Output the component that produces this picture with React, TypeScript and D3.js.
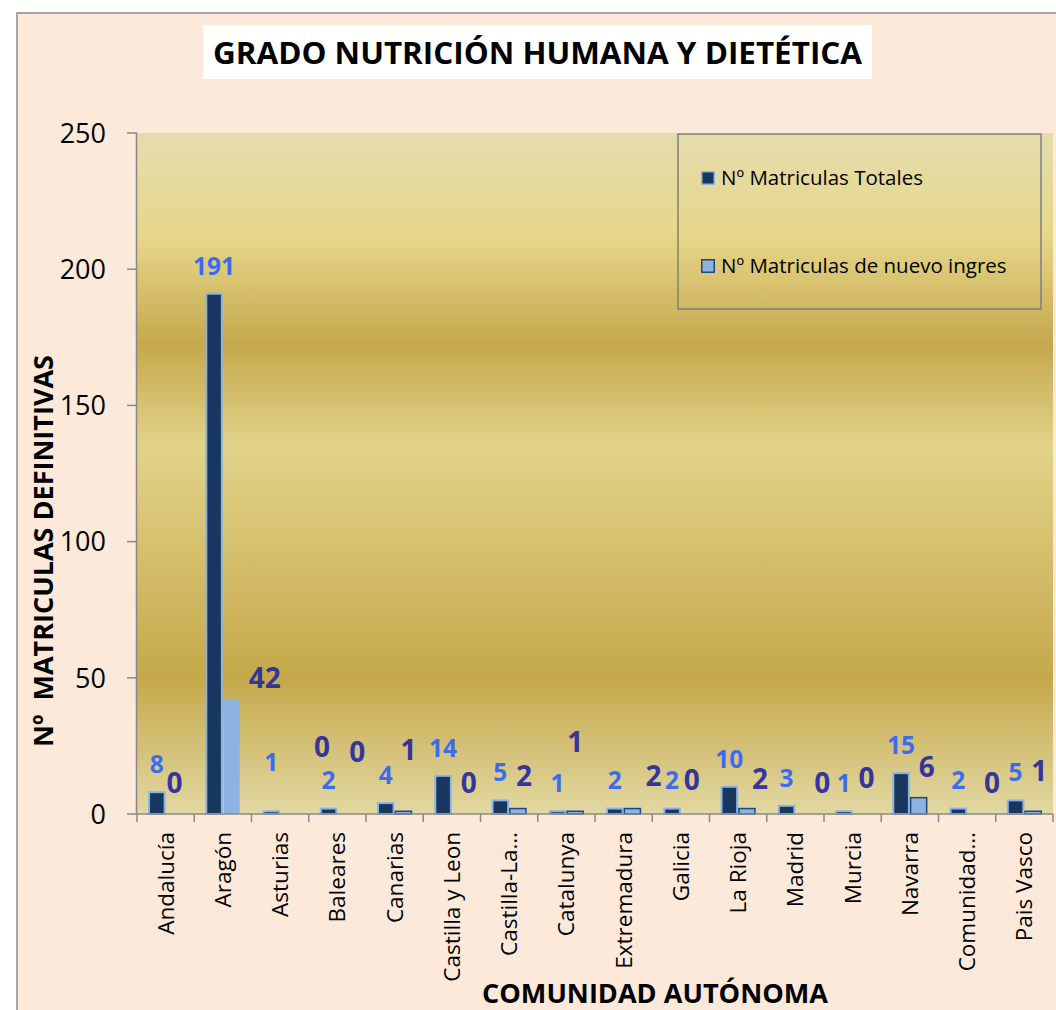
import { scaleBand, scaleLinear } from 'd3'

const categories = [
  'Andalucía',
  'Aragón',
  'Asturias',
  'Baleares',
  'Canarias',
  'Castilla y Leon',
  'Castilla-La…',
  'Catalunya',
  'Extremadura',
  'Galicia',
  'La Rioja',
  'Madrid',
  'Murcia',
  'Navarra',
  'Comunidad…',
  'Pais Vasco',
]
const totales = [8, 191, 1, 2, 4, 14, 5, 1, 2, 2, 10, 3, 1, 15, 2, 5]
const nuevoIngreso = [0, 42, 0, 0, 1, 0, 2, 1, 2, 0, 2, 0, 0, 6, 0, 1]
const yTicks = [0, 50, 100, 150, 200, 250]
const seriesNames = ['Nº Matriculas Totales', 'Nº Matriculas de nuevo ingres']

// labels were dragged by hand in the original sheet, these are the pixel nudges
const totalLabelNudge = [0, 0, -21, 0, 0, 0, 0, 0, 0, 0, 0, 0, 0, 0, 0, 0]
const nuevoLabelNudge: [number, number][] = [
  [0, 0], [33, 9], [33, -36], [11, -31], [5, -30], [8, 0], [6, -2], [0, -38],
  [21, -2], [2, -3], [13, 1], [18, 0], [5, -5], [8, 0], [16, 0], [6, -9],
]

const W = 1056
const H = 1010
const PLOT = { left: 137, right: 1053, top: 133, bottom: 814 }
const FONT = '"Open Sans", "Noto Sans", sans-serif'
const DARK = '#17375e'
const LIGHT = '#8db3e2'
const AXIS = '#888888'

export default function App() {
  const x = scaleBand<string>()
    .domain(categories)
    .range([PLOT.left, PLOT.right])
    .paddingInner(0)
    .paddingOuter(0)
  const inner = scaleBand<string>()
    .domain(['t', 'n'])
    .range([0, x.bandwidth()])
    .paddingInner(0)
    .paddingOuter(0.63)
  const y = scaleLinear().domain([0, 250]).range([PLOT.bottom, PLOT.top])
  const bw = inner.bandwidth()

  return (
    <div style={{ position: 'absolute', left: 0, top: 0 }}>
      <svg width={W} height={H} viewBox={`0 0 ${W} ${H}`} style={{ display: 'block' }}>
        <defs>
          <linearGradient id="gold" x1="0" y1="0" x2="0" y2="1">
            <stop offset="0" stopColor="#e4dcae" />
            <stop offset="0.15" stopColor="#e7d78a" />
            <stop offset="0.31" stopColor="#c5a84d" />
            <stop offset="0.46" stopColor="#e2d389" />
            <stop offset="0.8" stopColor="#c5a84b" />
            <stop offset="1" stopColor="#e2d8a2" />
          </linearGradient>
        </defs>
        <rect width={W} height={H} fill="#ffffff" />
        <rect x={17} y={13} width={W} height={H} fill="#fde9d9" stroke="#8c8c8c" strokeWidth={1.5} />

        {/* title */}
        <rect x={203} y={25} width={669} height={54} fill="#ffffff" />
        <text
          x={213}
          y={64}
          fontFamily={FONT}
          fontWeight="bold"
          fontSize={30}
          textLength={649}
          lengthAdjust="spacingAndGlyphs"
          fill="#000"
        >
          GRADO NUTRICIÓN HUMANA Y DIETÉTICA
        </text>

        {/* plot area */}
        <rect
          x={PLOT.left}
          y={PLOT.top}
          width={PLOT.right - PLOT.left}
          height={PLOT.bottom - PLOT.top}
          fill="url(#gold)"
        />

        {/* bars */}
        {categories.map((c, i) => {
          const x0 = x(c) ?? 0
          const tv = totales[i]
          const nv = nuevoIngreso[i]
          return (
            <g key={c}>
              {tv > 0 ? (
                <rect
                  x={x0 + (inner('t') ?? 0) + 1}
                  y={y(tv)}
                  width={bw - 2}
                  height={y(0) - y(tv)}
                  fill={DARK}
                  stroke={LIGHT}
                  strokeWidth={2}
                />
              ) : null}
              {nv > 0 ? (
                <rect
                  x={x0 + (inner('n') ?? 0) + 0.75}
                  y={y(nv)}
                  width={bw - 1.5}
                  height={y(0) - y(nv)}
                  fill={LIGHT}
                  stroke={i === 1 ? 'none' : '#1f497d'}
                  strokeWidth={1.5}
                />
              ) : null}
            </g>
          )
        })}

        {/* axes */}
        <line x1={PLOT.left - 0.5} x2={PLOT.left - 0.5} y1={PLOT.top} y2={PLOT.bottom} stroke={AXIS} strokeWidth={1.5} />
        {yTicks.map((t) => (
          <g key={t}>
            <line x1={PLOT.left - 10} x2={PLOT.left} y1={y(t)} y2={y(t)} stroke={AXIS} strokeWidth={1.5} />
            <text
              x={106}
              y={y(t)}
              dy="0.36em"
              textAnchor="end"
              fontFamily={FONT}
              fontSize={27}
              fill="#000"
            >
              {t}
            </text>
          </g>
        ))}
        <line x1={PLOT.left - 1} x2={PLOT.right} y1={PLOT.bottom} y2={PLOT.bottom} stroke={AXIS} strokeWidth={1.5} />
        {categories.map((c) => (
          <line
            key={`tick-${c}`}
            x1={x(c) ?? 0}
            x2={x(c) ?? 0}
            y1={PLOT.bottom}
            y2={PLOT.bottom + 8}
            stroke={AXIS}
            strokeWidth={1.5}
          />
        ))}
        <line x1={PLOT.right} x2={PLOT.right} y1={PLOT.bottom} y2={PLOT.bottom + 8} stroke={AXIS} strokeWidth={1.5} />

        {/* category labels */}
        {categories.map((c) => {
          const cx = (x(c) ?? 0) + x.bandwidth() / 2
          return (
            <text
              key={`lab-${c}`}
              transform={`translate(${cx},${PLOT.bottom + 18}) rotate(-90)`}
              dy="0.36em"
              textAnchor="end"
              fontFamily={FONT}
              fontSize={22.5}
              fill="#000"
            >
              {c}
            </text>
          )
        })}

        {/* data labels */}
        {categories.map((c, i) => {
          const x0 = x(c) ?? 0
          const tx = x0 + (inner('t') ?? 0) + bw / 2
          const nx = x0 + (inner('n') ?? 0) + bw / 2
          return (
            <g key={`dl-${c}`} fontFamily={FONT} fontWeight="bold" textAnchor="middle">
              <text
                x={tx}
                y={y(totales[i]) - 28 + totalLabelNudge[i]}
                dy="0.36em"
                fontSize={24.5}
                fill="#3b6cf0"
              >
                {totales[i]}
              </text>
              <text
                x={nx + nuevoLabelNudge[i][0]}
                y={y(nuevoIngreso[i]) - 31 + nuevoLabelNudge[i][1]}
                dy="0.36em"
                fontSize={28}
                fill="#35359a"
              >
                {nuevoIngreso[i]}
              </text>
            </g>
          )
        })}

        {/* legend */}
        <rect x={678} y={134} width={363} height={175} fill="none" stroke="#7f7f7f" strokeWidth={1.5} />
        {seriesNames.map((name, i) => (
          <g key={name} transform={`translate(701,${171 + i * 88})`}>
            <rect
              x={0.75}
              y={0.75}
              width={12.5}
              height={12.5}
              fill={i === 0 ? DARK : LIGHT}
              stroke={i === 0 ? LIGHT : '#1f497d'}
              strokeWidth={1.5}
            />
            <text x={20} y={13.5} fontFamily={FONT} fontSize={20.5} fill="#000">
              {name}
            </text>
          </g>
        ))}

        {/* axis titles */}
        <text
          transform={`translate(53,551) rotate(-90)`}
          textAnchor="middle"
          fontFamily={FONT}
          fontWeight="bold"
          fontSize={27}
          textLength={392}
          lengthAdjust="spacingAndGlyphs"
          fill="#000"
          style={{ whiteSpace: 'pre' }}
        >
          {'Nº  MATRICULAS DEFINITIVAS'}
        </text>
        <text
          x={655}
          y={1003}
          textAnchor="middle"
          fontFamily={FONT}
          fontWeight="bold"
          fontSize={26}
          textLength={346}
          lengthAdjust="spacingAndGlyphs"
          fill="#000"
        >
          COMUNIDAD AUTÓNOMA
        </text>
      </svg>
    </div>
  )
}
